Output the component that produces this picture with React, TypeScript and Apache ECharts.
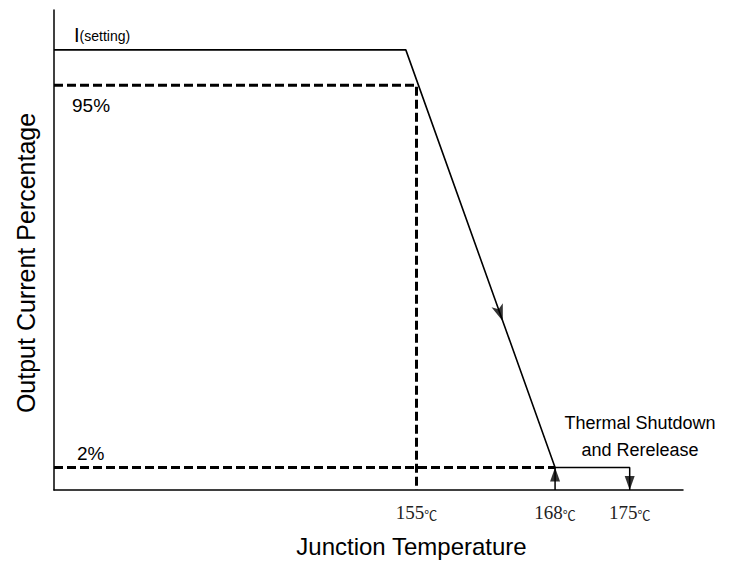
import React, { useEffect, useRef } from "react";
import * as echarts from "echarts";

// Schematic levels (x: °C, y: % level)
const declineX = [121, 154, 168];
const declineY = [103.6, 103.6, 2];
const level95X = [121, 155, 155];
const level95Y = [95, 95, -3.5];
const level2X = [121, 168];
const level2Y = [2, 2];
const shutdownX = [168, 168, 175, 175];
const shutdownY = [-3.5, 2, 2, -3.5];
const tickTemps = [155, 168, 175];

const X_MIN = 121;
const X_MAX = 180;
const Y_MIN = -3.5;
const Y_MAX = 113.3;

const zip = (xs: number[], ys: number[]) => xs.map((x, i) => [x, ys[i]]);

export default function App() {
  const ref = useRef<HTMLDivElement>(null);
  useEffect(() => {
    document.body.style.margin = "0";
    const chart = echarts.init(ref.current!, null, { renderer: "svg" });
    const t = 0.65;
    const midX = declineX[1] + (declineX[2] - declineX[1]) * t;
    const midY = declineY[1] + (declineY[2] - declineY[1]) * t;
    const black = "#000";
    const sans = "Liberation Sans, Arial, sans-serif";
    chart.setOption({
      animation: false,
      backgroundColor: "#fff",
      grid: { left: 54, right: 54, top: 10, bottom: 72, containLabel: false },
      xAxis: {
        type: "value",
        min: X_MIN,
        max: X_MAX,
        name: "Junction Temperature",
        nameLocation: "middle",
        nameGap: 44,
        nameTextStyle: { fontFamily: sans, fontSize: 24, color: black, padding: [0, 0, 0, 86] },
        axisLine: { onZero: false, lineStyle: { color: black, width: 1.5 } },
        axisTick: { show: false },
        splitLine: { show: false },
        axisLabel: {
          customValues: tickTemps,
          margin: 13,
          formatter: (v: number) => `{a|${v}}{b|℃}`,
          rich: {
            a: { fontFamily: "Liberation Serif, DejaVu Serif, serif", fontSize: 19, color: "#222" },
            b: { fontFamily: "Noto Sans CJK SC, DejaVu Sans", fontSize: 13, color: "#222", padding: [3, 0, 0, 0] },
          },
        },
      },
      yAxis: {
        type: "value",
        min: Y_MIN,
        max: Y_MAX,
        name: "Output Current Percentage",
        nameLocation: "middle",
        nameGap: 16,
        nameTextStyle: { fontFamily: sans, fontSize: 25, color: black, padding: [0, 26, 0, 0] },
        axisLine: { onZero: false, lineStyle: { color: black, width: 1.5 } },
        axisTick: { show: false },
        splitLine: { show: false },
        axisLabel: { show: false },
      },
      series: [
        {
          type: "line",
          data: zip(declineX, declineY),
          symbol: "none",
          lineStyle: { color: black, width: 1.6 },
        },
        {
          type: "line",
          data: zip(shutdownX, shutdownY),
          symbol: "none",
          lineStyle: { color: black, width: 1.5 },
        },
        {
          type: "line",
          data: zip(level95X, level95Y),
          symbol: "none",
          lineStyle: { color: black, width: 3, type: [9, 4] },
        },
        {
          type: "line",
          data: zip(level2X, level2Y),
          symbol: "none",
          lineStyle: { color: black, width: 3, type: [9, 4] },
        },
        {
          type: "scatter",
          itemStyle: { color: black },
          data: [
            { value: [midX, midY], symbol: "arrow", symbolSize: [9, 17], symbolRotate: 199.5 },
            { value: [shutdownX[1], shutdownY[1]], symbol: "triangle", symbolSize: [10, 14], symbolOffset: [0, 7] },
            { value: [shutdownX[3], shutdownY[3]], symbol: "triangle", symbolSize: [10, 14], symbolRotate: 180, symbolOffset: [0, -7] },
          ],
        },
      ],
      graphic: [
        {
          type: "text",
          left: 74,
          top: 25,
          style: {
            text: "{i|I}{s|(setting)}",
            rich: {
              i: { fontFamily: sans, fontSize: 20, fill: black },
              s: { fontFamily: sans, fontSize: 14, fill: black, padding: [2, 0, 0, 0] },
            },
          },
        },
        { type: "text", left: 72, top: 96, style: { text: "95%", fontFamily: sans, fontSize: 19, fill: black } },
        { type: "text", left: 77, top: 444, style: { text: "2%", fontFamily: sans, fontSize: 19, fill: black } },
        {
          type: "text",
          x: 640,
          y: 409,
          style: {
            text: "Thermal Shutdown\nand Rerelease",
            fontFamily: sans,
            fontSize: 18,
            lineHeight: 27,
            align: "center",
            verticalAlign: "top",
            fill: black,
          },
        },
      ],
    });
    return () => chart.dispose();
  }, []);
  return <div ref={ref} style={{ width: 737, height: 563 }} />;
}
